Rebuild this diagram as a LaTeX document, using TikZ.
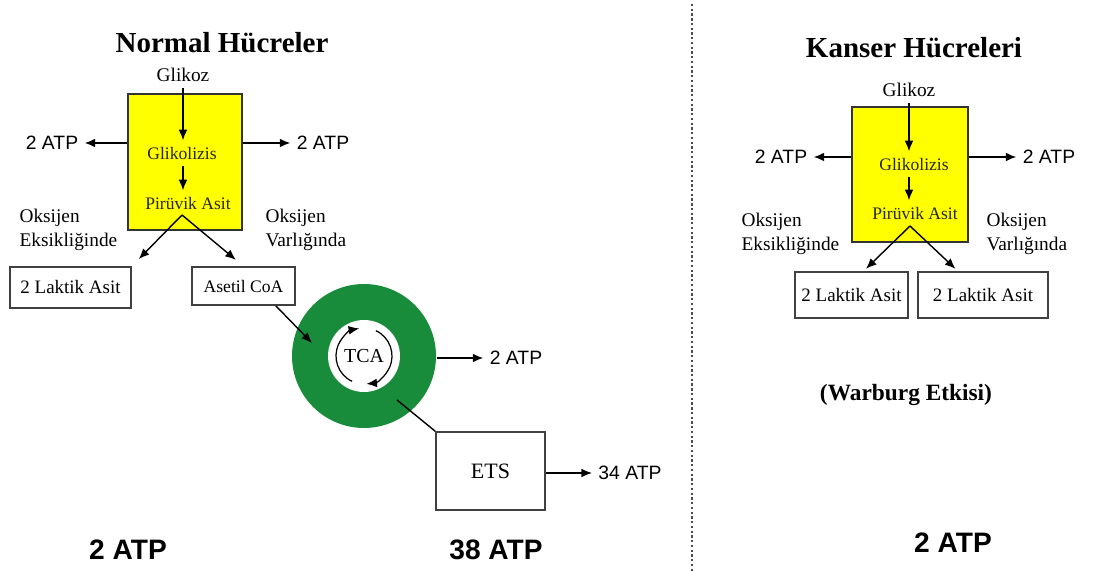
\documentclass[tikz,border=0pt]{standalone}
\usepackage{fontspec}
\usetikzlibrary{arrows.meta}
\setmainfont{Liberation Serif}
\newfontfamily\arialf{Liberation Sans}
\definecolor{glyellow}{RGB}{255,255,0}
\definecolor{ringgreen}{RGB}{24,140,58}
\begin{document}
\begin{tikzpicture}[x=0.02cm, y=0.02cm, >={Latex[length=6pt,width=5pt]}, thick,
	title/.style={font=\fontsize{16.5}{20}\selectfont\bfseries},
	gly box/.style={rectangle, draw=black!80, line width=1pt, fill=glyellow, minimum width=2.28cm, minimum height=2.72cm},
	lab box/.style={rectangle, draw=black!75, line width=0.9pt, font=\fontsize{10.8}{13}\selectfont},
	inner/.style={font=\fontsize{10}{12}\selectfont, text=black!85},
	plain/.style={font=\fontsize{11}{13.5}\selectfont},
	side/.style={font=\fontsize{11}{13.5}\selectfont, align=left, anchor=west},
	atp/.style={font=\arialf\fontsize{11}{13}\selectfont},
	total/.style={font=\arialf\bfseries\fontsize{16}{19}\selectfont}]
	\useasboundingbox (0,0) rectangle (1093,-571);
	% Normal Hücreler
	\node[title] (T1) at (222,-43) {Normal Hücreler};
	\node[gly box] (Y1) at (185,-162) {};
	\node[plain] (G1) at (183,-75) {Glikoz};
	\node[inner] (L1) at (182,-153) {Glikolizis};
	\node[inner] (P1) at (188,-203) {Pirüvik Asit};
	\draw[->] (G1) -- (G1 |- L1.north);
	\draw[->] (G1 |- L1.south) -- (G1 |- P1.north);
	\node[atp] (A1) at (52,-143) {2 ATP};
	\node[atp] (A2) at (323,-143) {2 ATP};
	\draw[->] (A1 -| Y1.west) -- (A1);
	\draw[->] (A2 -| Y1.east) -- (A2);
	\node[side] (O1) at (13,-230) {Oksijen\\Eksikliğinde};
	\node[side] (O2) at (259,-230) {Oksijen\\Varlığında};
	\coordinate (S1) at (182,-215);
	\node[lab box, minimum width=2.42cm, minimum height=0.82cm] (K1) at (70.5,-287.5) {2 Laktik Asit};
	\node[lab box, minimum width=2.06cm, minimum height=0.76cm, font=\fontsize{10}{12}\selectfont] (C1) at (243.5,-286) {Asetil CoA};
	\draw[->, shorten >=0.2cm] (S1) -- (K1.north east);
	\draw[->, shorten >=0.2cm] (S1) -- (C1.north);
	% TCA
	\node[circle, fill=ringgreen, minimum size=2.88cm, inner sep=0pt] (R1) at (364,-356) {};
	\node[circle, fill=white, minimum size=1.44cm, inner sep=0pt, font=\fontsize{11.3}{13}\selectfont] (TCA) at (R1) {TCA};
	\draw[->, line width=0.7pt] (TCA.center) ++(245:28) arc[start angle=245, end angle=100, radius=28];
	\draw[->, line width=0.7pt] (TCA.center) ++(65:28) arc[start angle=65, end angle=-85, radius=28];
	\coordinate (R1in) at (312,-343);
	\coordinate (R1out) at (397,-400);
	\draw[->] ([xshift=-0.4cm]C1.south east) -- (R1in);
	\node[atp] (A3) at (516,-358) {2 ATP};
	\draw[->] (A3 -| R1.east) -- (A3);
	\node[lab box, minimum width=2.18cm, minimum height=1.56cm, font=\fontsize{12.5}{15}\selectfont] (E1) at (490.5,-471) {ETS};
	\draw (R1out) -- (E1.north west);
	\node[atp] (A4) at (630,-473) {34 ATP};
	\draw[->] (E1.east |- A4) -- (A4);
	\node[total] (B1) at (128,-550) {2 ATP};
	\node[total] (B2) at (496,-550) {38 ATP};
	% separator
	\draw[gray!60!black, line width=1pt, dash pattern=on 1.3pt off 1.4pt] (692,-4) -- (692,-571);
	% Kanser Hücreleri
	\node[title] (T2) at (914,-48) {Kanser Hücreleri};
	\node[gly box, minimum width=2.32cm, minimum height=2.7cm] (Y2) at (910,-174.5) {};
	\node[plain] (G2) at (909,-90) {Glikoz};
	\node[inner] (L2) at (914,-164) {Glikolizis};
	\node[inner] (P2) at (915,-213) {Pirüvik Asit};
	\draw[->] (G2) -- (G2 |- L2.north);
	\draw[->] (G2 |- L2.south) -- (G2 |- P2.north);
	\node[atp] (A5) at (781,-157) {2 ATP};
	\node[atp] (A6) at (1049,-157) {2 ATP};
	\draw[->] (A5 -| Y2.west) -- (A5);
	\draw[->] (A6 -| Y2.east) -- (A6);
	\node[side] (O3) at (735,-234) {Oksijen\\Eksikliğinde};
	\node[side] (O4) at (980,-234) {Oksijen\\Varlığında};
	\coordinate (S2) at (910,-226);
	\node[lab box, minimum width=2.26cm, minimum height=0.92cm] (K2) at (851.5,-295) {2 Laktik Asit};
	\node[lab box, minimum width=2.6cm, minimum height=0.92cm] (K3) at (983,-295) {2 Laktik Asit};
	\draw[->, shorten >=2pt] (S2) -- ([xshift=0.24cm]K2.north);
	\draw[->, shorten >=2pt] (S2) -- ([xshift=-0.5cm]K3.north);
	\node[font=\bfseries\fontsize{13.3}{16}\selectfont] (W1) at (906,-395) {(Warburg Etkisi)};
	\node[total] (B3) at (953,-543) {2 ATP};
\end{tikzpicture}
\end{document}
